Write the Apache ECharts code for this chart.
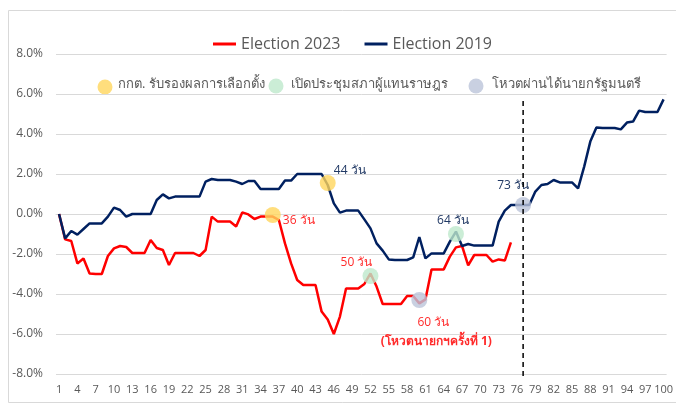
<!DOCTYPE html>
<html>
<head>
<meta charset="utf-8">
<script src="https://cdn.jsdelivr.net/npm/echarts@6/dist/echarts.min.js"></script>
<style>
html,body{margin:0;padding:0;background:#fff;}
#chart{width:676px;height:405px;}
</style>
</head>
<body>
<div id="chart"></div>
<script>
const days = Array.from({length: 100}, (_, i) => String(i + 1));

const election2023 = [
  0, -1.27, -1.35, -2.47, -2.23, -2.97, -3.0, -3.0, -2.1, -1.72,
  -1.6, -1.65, -1.95, -1.95, -1.95, -1.3, -1.7, -1.8, -2.55, -1.95,
  -1.95, -1.95, -1.95, -2.1, -1.8, -0.13, -0.38, -0.38, -0.38, -0.62,
  0.08, -0.02, -0.25, -0.13, -0.13, -0.13, -0.3, -1.47, -2.47, -3.3,
  -3.55, -3.55, -3.55, -4.88, -5.27, -6.0, -5.13, -3.72, -3.72, -3.72,
  -3.5, -2.97, -3.63, -4.5, -4.5, -4.5, -4.5, -4.1, -4.1, -4.47,
  -4.27, -2.77, -2.77, -2.77, -2.13, -1.67, -1.6, -2.57, -2.05, -2.05,
  -2.05, -2.38, -2.27, -2.33, -1.42
];

const election2019 = [
  0, -1.22, -0.85, -1.03, -0.75, -0.47, -0.47, -0.47, -0.13, 0.32,
  0.2, -0.13, 0, 0, 0, 0, 0.7, 0.98, 0.78, 0.87,
  0.87, 0.87, 0.87, 0.87, 1.62, 1.75, 1.7, 1.7, 1.7, 1.62,
  1.5, 1.65, 1.65, 1.25, 1.25, 1.25, 1.25, 1.67, 1.67, 2.0,
  2.0, 2.0, 2.0, 2.0, 1.45, 0.53, 0.07, 0.17, 0.17, 0.17,
  -0.27, -0.72, -1.47, -1.83, -2.27, -2.3, -2.3, -2.3, -2.17, -1.15,
  -2.22, -1.97, -1.97, -1.97, -1.38, -0.88, -1.6, -1.5, -1.58, -1.58,
  -1.58, -1.58, -0.38, 0.17, 0.45, 0.45, 0.45, 0.45, 1.12, 1.45,
  1.5, 1.7, 1.58, 1.58, 1.58, 1.28, 2.37, 3.62, 4.33, 4.3,
  4.3, 4.3, 4.23, 4.57, 4.62, 5.17, 5.1, 5.1, 5.1, 5.73
];

const seriesNames = ['Election 2023', 'Election 2019'];
const eventNames = ['กกต. รับรองผลการเลือกตั้ง', 'เปิดประชุมสภาผู้แทนราษฎร', 'โหวตผ่านได้นายกรัฐมนตรี'];
const eventColors = ['rgba(255,214,92,0.8)', 'rgba(190,232,204,0.8)', 'rgba(188,196,218,0.8)'];

// event markers: [category index (fractional), value, label]
const events2023 = [
  [35.4, -0.05, '36 วัน'],
  [50.7, -3.1, '50 วัน'],
  [58.5, -4.3, '60 วัน']
];
const events2019 = [
  [43.7, 1.55, '44 วัน'],
  [64.8, -1.0, '64 วัน'],
  [75.9, 0.45, '73 วัน']
];
const voteNote = '(โหวตนายกฯครั้งที่ 1)';
const dividerDay = '77';
const dividerRange = [5.65, -8.15];

const FONT = "'Open Sans','Noto Sans',sans-serif";
const RED = '#ff0000';
const NAVY = '#002060';
const RED_TXT = '#ff2b2b';
const NAVY_TXT = '#203864';

const chart = echarts.init(document.getElementById('chart'));

function mp(ev, colorIdx, offset, txtColor) {
  return {
    coord: [ev[0], ev[1]],
    symbol: 'circle',
    symbolSize: 16,
    itemStyle: { color: eventColors[colorIdx] },
    label: {
      show: true, position: 'inside', offset: offset,
      formatter: ev[2], color: txtColor, fontSize: 12, fontFamily: FONT
    }
  };
}

const baseGraphics = [
  { type: 'rect', shape: { x: 8.5, y: 10.5, width: 680, height: 392 },
    style: { fill: 'none', stroke: '#d9d9d9', lineWidth: 1 }, silent: true, z: -1 },
  { type: 'circle', shape: { cx: 105, cy: 87, r: 7.5 }, style: { fill: eventColors[0] } },
  { type: 'text', left: 118, top: 78, style: { text: eventNames[0], fill: '#595959', font: '13px ' + FONT } },
  { type: 'circle', shape: { cx: 276, cy: 86, r: 7.5 }, style: { fill: eventColors[1] } },
  { type: 'text', left: 291, top: 78, style: { text: eventNames[1], fill: '#595959', font: '13px ' + FONT } },
  { type: 'circle', shape: { cx: 476, cy: 86, r: 7.5 }, style: { fill: eventColors[2] } },
  { type: 'text', left: 492, top: 78, style: { text: eventNames[2], fill: '#595959', font: '13px ' + FONT } }
];

const option = {
  animation: false,
  textStyle: { fontFamily: FONT },
  grid: { left: 56, right: 9, top: 54, bottom: 31 },
  legend: {
    data: seriesNames,
    left: 208, top: 31,
    icon: 'rect', itemWidth: 23, itemHeight: 3, itemGap: 24,
    textStyle: { fontSize: 16, color: '#595959', fontFamily: FONT }
  },
  graphic: baseGraphics,
  xAxis: {
    type: 'category',
    data: days,
    boundaryGap: true,
    axisLine: { lineStyle: { color: '#d9d9d9' } },
    axisTick: { show: false },
    axisLabel: { interval: 2, color: '#595959', fontSize: 11, margin: 10, fontFamily: FONT }
  },
  yAxis: {
    type: 'value',
    min: -8, max: 8, interval: 2,
    axisLine: { show: false },
    axisTick: { show: false },
    splitLine: { lineStyle: { color: '#d9d9d9', width: 1 } },
    axisLabel: { formatter: v => v.toFixed(1) + '%', color: '#595959', fontSize: 12, margin: 13, fontFamily: FONT }
  },
  series: [
    {
      name: seriesNames[0], type: 'line', data: election2023,
      symbol: 'none', lineStyle: { color: RED, width: 2.5 }, itemStyle: { color: RED },
      z: 3,
      markPoint: {
        silent: true,
        data: [
          mp(events2023[0], 0, [26, 6], RED_TXT),
          mp(events2023[1], 1, [-14, -13], RED_TXT),
          mp(events2023[2], 2, [14, 23], RED_TXT),
          {
            coord: [events2023[2][0], events2023[2][1]],
            symbol: 'circle', symbolSize: 0,
            label: { show: true, position: 'inside', offset: [17, 42], formatter: voteNote,
              color: RED_TXT, fontSize: 12, fontWeight: 'bold', fontFamily: FONT }
          }
        ]
      }
    },
    {
      name: seriesNames[1], type: 'line', data: election2019,
      symbol: 'none', lineStyle: { color: NAVY, width: 2.5 }, itemStyle: { color: NAVY },
      z: 4,
      markPoint: {
        silent: true,
        data: [
          mp(events2019[0], 0, [22, -12], NAVY_TXT),
          mp(events2019[1], 1, [-3, -13], NAVY_TXT),
          mp(events2019[2], 2, [-10, -19], NAVY_TXT)
        ]
      }
    }
  ]
};
chart.setOption(option);

// dashed divider placed through the chart's own scales
const pTop = chart.convertToPixel({ gridIndex: 0 }, [dividerDay, dividerRange[0]]);
const pBot = chart.convertToPixel({ gridIndex: 0 }, [dividerDay, dividerRange[1]]);
chart.setOption({
  graphic: baseGraphics.concat([{
    type: 'line', silent: true, z: 10,
    shape: { x1: pTop[0], y1: pTop[1], x2: pBot[0], y2: pBot[1] },
    style: { stroke: '#000', lineWidth: 1.5, lineDash: [5, 4] }
  }])
});
</script>
</body>
</html>
